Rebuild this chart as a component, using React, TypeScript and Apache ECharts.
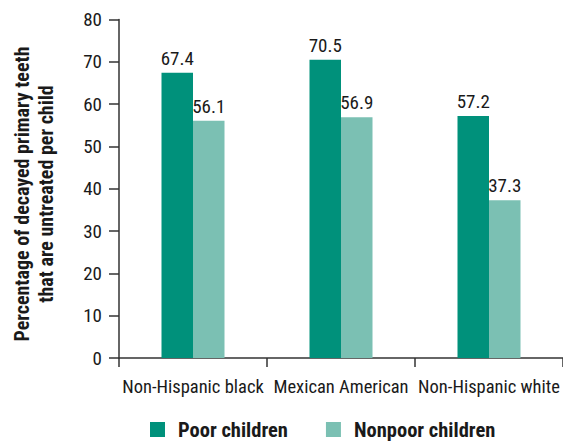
import React, { useEffect, useRef } from "react";
import * as echarts from "echarts";

const categories = ["Non-Hispanic black", "Mexican American", "Non-Hispanic white"];
const poorValues = [67.4, 70.5, 57.2];
const nonpoorValues = [56.1, 56.9, 37.3];
const seriesNames = ["Poor children", "Nonpoor children"];
const yTitle = "Percentage of decayed primary teeth\nthat are untreated per child";

const FONT = "'Roboto Condensed', 'Liberation Sans', sans-serif";

export default function App() {
  const ref = useRef<HTMLDivElement>(null);
  useEffect(() => {
    if (!ref.current) return;
    const chart = echarts.init(ref.current, null, { renderer: "svg" });
    const label = {
      show: true,
      position: "top",
      distance: 5,
      color: "#1a1a1a",
      fontSize: 19,
      fontFamily: FONT,
    };
    chart.setOption({
      animation: false,
      textStyle: { fontFamily: FONT },
      grid: { left: 119, top: 19.5, width: 445.5, height: 338.5 },
      legend: {
        data: seriesNames,
        left: 145,
        top: 414,
        icon: "rect",
        itemWidth: 15,
        itemHeight: 15,
        itemGap: 38,
        textStyle: { fontSize: 20.5, fontWeight: "bold", color: "#1a1a1a", fontFamily: FONT, padding: [0, 0, 0, 8] },
      },
      graphic: [
        {
          type: "text",
          x: 34,
          y: 194,
          rotation: Math.PI / 2,
          style: {
            text: yTitle,
            textAlign: "center",
            textVerticalAlign: "middle",
            fontSize: 20,
            fontWeight: "bold",
            fontFamily: FONT,
            lineHeight: 24,
            fill: "#1a1a1a",
          },
        },
      ],
      xAxis: {
        type: "category",
        data: categories,
        axisLine: { lineStyle: { color: "#333", width: 1.5 } },
        axisTick: { show: true, length: 9, lineStyle: { color: "#333", width: 1.5 } },
        axisLabel: { color: "#1a1a1a", fontSize: 18.5, margin: 19, fontFamily: FONT, interval: 0 },
      },
      yAxis: {
        type: "value",
        min: 0,
        max: 80,
        interval: 10,
        splitLine: { show: false },
        axisLine: { show: true, lineStyle: { color: "#333", width: 1.5 } },
        axisTick: { show: true, length: 10, lineStyle: { color: "#333", width: 1.5 } },
        axisLabel: { color: "#1a1a1a", fontSize: 19, margin: 17, fontFamily: FONT },
      },
      series: [
        {
          name: seriesNames[0],
          type: "bar",
          data: poorValues,
          barWidth: 31.5,
          barGap: "0%",
          itemStyle: { color: "#00917b" },
          label,
        },
        {
          name: seriesNames[1],
          type: "bar",
          data: nonpoorValues,
          barWidth: 31.5,
          barGap: "0%",
          itemStyle: { color: "#7bc0b3" },
          label,
        },
      ],
    });
    return () => chart.dispose();
  }, []);
  return <div ref={ref} style={{ width: 563, height: 442, position: "absolute", left: 0, top: 0 }} />;
}
